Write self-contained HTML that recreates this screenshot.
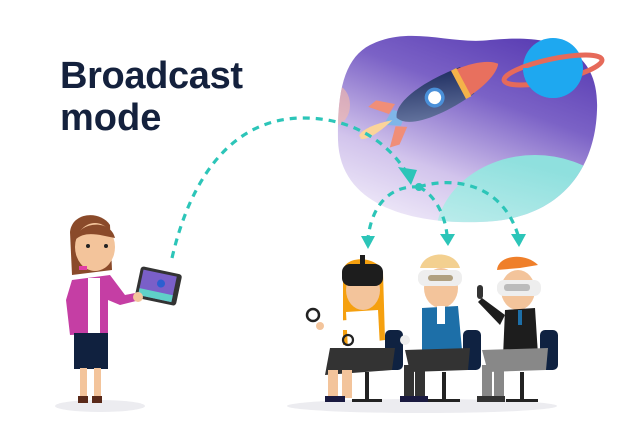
<!DOCTYPE html>
<html><head><meta charset="utf-8"><style>
html,body{margin:0;padding:0;background:#fff;width:640px;height:443px;overflow:hidden}
svg{display:block}
</style></head><body>
<svg width="640" height="443" viewBox="0 0 640 443" xmlns="http://www.w3.org/2000/svg">
<defs>
<linearGradient id="bg" x1="0.2" y1="1" x2="0.7" y2="0">
<stop offset="0" stop-color="#f4f0fb"/><stop offset="0.3" stop-color="#d2c4ec"/><stop offset="0.65" stop-color="#7b62c6"/><stop offset="1" stop-color="#5437b0"/>
</linearGradient>
<linearGradient id="tg" x1="0" y1="1" x2="0.3" y2="0">
<stop offset="0" stop-color="#f2fbfb"/><stop offset="1" stop-color="#8fe0de"/>
</linearGradient>
<linearGradient id="rk" x1="0" y1="1" x2="1" y2="0">
<stop offset="0" stop-color="#6f7fa8"/><stop offset="1" stop-color="#1c2b5e"/>
</linearGradient>
<clipPath id="blob"><path d="M370,45 C410,25 450,45 490,40 C540,35 600,40 597,110 C595,170 560,220 480,222 C420,224 340,210 338,140 C337,90 345,58 370,45 Z"/></clipPath>
</defs>
<text x="60" y="88" font-family="Liberation Sans, sans-serif" font-weight="700" font-size="38" fill="#14213d" textLength="183">Broadcast</text>
<text x="60" y="130" font-family="Liberation Sans, sans-serif" font-weight="700" font-size="38" fill="#14213d">mode</text>

<g clip-path="url(#blob)">
<rect x="330" y="20" width="280" height="210" fill="url(#bg)"/>
<ellipse cx="535" cy="240" rx="100" ry="85" fill="url(#tg)"/>
<ellipse cx="335" cy="105" rx="15" ry="20" fill="#f6b9a6" opacity="0.6"/>
</g>
<circle cx="553" cy="68" r="30" fill="#1ea8f0"/>
<ellipse cx="553" cy="70" rx="50" ry="11" transform="rotate(-12 553 70)" fill="none" stroke="#e66a5a" stroke-width="5"/>
<path d="M523,68 A30,30 0 0 0 583,68" fill="#1ea8f0"/>
<g transform="translate(-8 4) rotate(-28 440 95)">
<path d="M385,95 L400,86 L410,95 L400,104Z" fill="#7fb6e8"/>
<path d="M395,95 C360,85 355,95 360,95 C355,95 360,105 395,95Z" fill="#fbd49a"/>
<path d="M405,82 L390,70 L380,72 L395,88Z" fill="#f08e78"/>
<path d="M405,108 L390,120 L380,118 L395,102Z" fill="#f08e78"/>
<path d="M400,95 C405,80 440,75 480,80 L480,110 C440,115 405,110 400,95Z" fill="url(#rk)"/>
<path d="M475,80 C495,82 510,88 515,95 C510,102 495,108 475,110Z" fill="#e8705e"/>
<rect x="470" y="79" width="6" height="32" fill="#f4b34a"/>
<circle cx="443" cy="95" r="10" fill="#4a90d9"/><circle cx="443" cy="95" r="6.5" fill="#fff"/>
</g>

<g fill="none" stroke="#2cc5b8" stroke-width="3.2" stroke-dasharray="7 6">
<path d="M172,258 C190,180 230,120 300,118 C350,117 385,140 405,170"/>
<path d="M419,187 C390,185 372,205 368,238"/>
<path d="M419,187 C435,195 445,215 447,235"/>
<path d="M419,187 C445,178 500,178 518,235"/>
</g>
<g fill="#2cc5b8">
<path d="M398,167 L417,170 L411,185Z"/>
<circle cx="419" cy="187" r="4"/>
<path d="M361,236 L375,236 L368,249Z"/>
<path d="M440,234 L455,234 L448,246Z"/>
<path d="M511,234 L526,234 L519,247Z"/>
</g>

<ellipse cx="100" cy="406" rx="45" ry="6" fill="#ececf0"/>
<ellipse cx="422" cy="406" rx="135" ry="7" fill="#ececf0"/>

<g>
<path d="M70,232 C72,212 100,210 110,225 L112,270 L72,275Z" fill="#8a4a2a"/>
<ellipse cx="95" cy="247" rx="20" ry="24" fill="#f3c49b"/>
<path d="M75,240 C78,222 110,218 115,238 C100,235 85,230 75,240Z" fill="#8a4a2a"/>
<rect x="79" y="266" width="8" height="4" fill="#e23ea5"/>
<circle cx="88" cy="246" r="2" fill="#222"/><circle cx="106" cy="246" r="2" fill="#222"/>
<path d="M72,280 L110,275 L125,295 L140,292 L140,300 L120,305 L108,300 L108,333 L70,335 L66,300Z" fill="#c53ea4"/>
<rect x="88" y="278" width="12" height="55" fill="#fff"/>
<rect x="74" y="333" width="34" height="36" fill="#10213f"/>
<rect x="80" y="368" width="7" height="28" fill="#f3c49b"/><rect x="94" y="368" width="7" height="28" fill="#f3c49b"/>
<path d="M78,396 L88,396 L88,403 L78,403Z M92,396 L102,396 L102,403 L92,403Z" fill="#5a2a1a"/>
<g transform="rotate(12 158 288)"><rect x="137" y="270" width="42" height="32" rx="3" fill="#333"/><rect x="140" y="273" width="34" height="26" fill="#7a5fc8"/><circle cx="160" cy="283" r="4" fill="#2b5fd0"/><rect x="140" y="292" width="34" height="7" fill="#5fd0c8"/></g>
<circle cx="138" cy="297" r="5" fill="#f3c49b"/>
</g>

<g>
<path d="M343,272 C343,255 377,255 383,272 L385,340 L343,345Z" fill="#f5a00f"/>
<ellipse cx="363" cy="290" rx="17" ry="20" fill="#f3c49b"/>
<rect x="342" y="264" width="41" height="22" rx="8" fill="#1d1d1d"/>
<rect x="360" y="255" width="5" height="10" fill="#1d1d1d"/>
<path d="M346,312 L378,310 L380,348 L348,350Z" fill="#fff"/>
<path d="M348,320 L318,322 L320,330 L350,330Z" fill="#fff"/>
<circle cx="320" cy="326" r="4" fill="#f3c49b"/>
<circle cx="313" cy="315" r="6" fill="none" stroke="#222" stroke-width="2.5"/>
<circle cx="348" cy="340" r="5" fill="none" stroke="#222" stroke-width="2.2"/>
<rect x="385" y="330" width="18" height="40" rx="5" fill="#0f2241"/>
<path d="M330,348 L395,348 L392,370 L325,375Z" fill="#333"/>
<rect x="328" y="370" width="10" height="28" fill="#f3c49b"/><rect x="342" y="370" width="10" height="28" fill="#f3c49b"/>
<rect x="325" y="396" width="20" height="6" fill="#1a1a40"/>
<rect x="365" y="372" width="4" height="28" fill="#222"/><rect x="352" y="399" width="30" height="3" fill="#222"/>
</g>
<g>
<path d="M420,268 C425,250 455,250 460,268Z" fill="#f3d090"/>
<ellipse cx="441" cy="288" rx="17" ry="20" fill="#f3c49b"/>
<rect x="418" y="270" width="44" height="16" rx="7" fill="#eee"/>
<rect x="428" y="275" width="25" height="6" rx="3" fill="#b0a080"/>
<path d="M422,308 L458,306 L462,350 L422,352Z" fill="#1d6fa8"/>
<rect x="437" y="306" width="8" height="18" fill="#fff"/>
<rect x="463" y="330" width="18" height="40" rx="5" fill="#0f2241"/>
<path d="M405,350 L470,348 L468,370 L410,372Z" fill="#333"/>
<rect x="404" y="365" width="10" height="33" fill="#333"/><rect x="415" y="365" width="10" height="33" fill="#333"/>
<rect x="400" y="396" width="28" height="6" fill="#1a1a40"/>
<rect x="442" y="372" width="4" height="28" fill="#222"/><rect x="428" y="399" width="32" height="3" fill="#222"/>
<circle cx="405" cy="340" r="5" fill="#eee"/>
</g>
<g>
<path d="M497,270 C498,255 525,252 538,265 L520,268Z" fill="#ef7f2a"/>
<ellipse cx="518" cy="290" rx="17" ry="20" fill="#f3c49b"/>
<rect x="497" y="280" width="44" height="16" rx="7" fill="#eee"/>
<rect x="504" y="284" width="26" height="7" rx="3" fill="#bbb"/>
<path d="M505,310 L535,308 L538,355 L503,357Z" fill="#1d1d1d"/>
<path d="M505,315 L482,298 L478,302 L500,325Z" fill="#1d1d1d"/>
<rect x="477" y="285" width="6" height="14" rx="3" fill="#333"/>
<rect x="518" y="310" width="4" height="15" fill="#1d6fa8"/>
<rect x="540" y="330" width="18" height="40" rx="5" fill="#0f2241"/>
<path d="M482,350 L548,348 L546,370 L488,372Z" fill="#888"/>
<rect x="482" y="365" width="10" height="33" fill="#888"/><rect x="494" y="365" width="10" height="33" fill="#888"/>
<rect x="477" y="396" width="28" height="6" fill="#333"/>
<rect x="520" y="372" width="4" height="28" fill="#222"/><rect x="506" y="399" width="32" height="3" fill="#222"/>
</g>
</svg>
</body></html>
